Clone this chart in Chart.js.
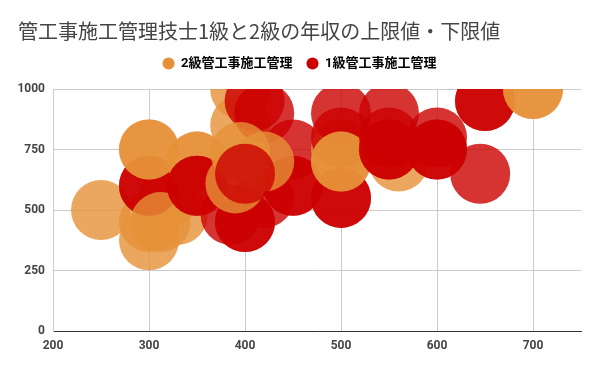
<!DOCTYPE html>
<html>
<head>
<meta charset="utf-8">
<script src="https://cdn.jsdelivr.net/npm/chart.js@4"></script>
<style>
  html, body { margin: 0; padding: 0; background: #fff; }
  #wrap { width: 600px; height: 371px; }
</style>
</head>
<body>
<div id="wrap"><canvas id="bubbleChart" width="600" height="371"></canvas></div>
<script>
// series names
const seriesNames = ['2級管工事施工管理', '1級管工事施工管理'];

// points in drawing order (later ones lie on top)
// 0 = 2級, 1 = 1級
const salaryLow = [250, 300, 300, 320, 330, 300, 300, 300, 300, 312, 350, 350, 350, 350,
    395, 395, 410, 420, 385, 400, 400, 420, 450, 450, 450, 395, 390, 420, 400, 500,
    500, 500, 500, 500, 500, 500, 560, 550, 550, 550, 550, 600, 600, 600, 645, 650, 650, 700, 700];
const salaryHigh = [500, 375, 450, 550, 480, 600, 600, 750, 750, 450, 700, 700, 600, 600,
    1000, 850, 950, 900, 480, 450, 450, 550, 750, 600, 600, 740, 610, 700, 650, 750,
    900, 800, 550, 550, 700, 700, 700, 900, 800, 750, 750, 800, 750, 750, 650, 950, 950, 1000, 1000];
const grade = [0, 0, 0, 0, 0, 1, 1, 0, 0, 0, 0, 0, 1, 1,
    0, 0, 1, 1, 1, 1, 1, 1, 1, 1, 1, 0, 0, 0, 1, 0,
    1, 1, 1, 1, 0, 0, 0, 1, 1, 1, 1, 1, 1, 1, 1, 1, 1, 0, 0];

// axis ticks
const xTicks = [200, 300, 400, 500, 600, 700];
const yTicks = [0, 250, 500, 750, 1000];

const fillColors = ['rgba(230, 145, 56, 0.8)', 'rgba(204, 0, 0, 0.8)'];
const legendColors = ['#e69138', '#cc0000'];

function buildPoints() {
    const pts = [];
    for (let i = 0; i < salaryLow.length; i++) {
        pts.push({ x: salaryLow[i], y: salaryHigh[i] });
    }
    return pts;
}

const tickFont = { family: "Roboto, 'Noto Sans CJK JP'", size: 12, weight: 'bold' };
const legendFont = { family: "Roboto, 'Noto Sans CJK JP'", size: 13, weight: 'bold' };

// leave a little more room under the legend
const legendGap = {
    id: 'legendGap',
    afterInit(chart) {
        const fit = chart.legend.fit;
        chart.legend.fit = function() {
            fit.call(this);
            this.height += 9;
        };
    }
};

const ctx = document.getElementById('bubbleChart').getContext('2d');
new Chart(ctx, {
    type: 'bubble',
    data: {
        datasets: [{
            label: 'salary',
            data: buildPoints(),
            radius: 30,
            borderWidth: 0,
            backgroundColor: c => fillColors[grade[c.dataIndex]]
        }]
    },
    options: {
        responsive: false,
        animation: false,
        events: [],
        layout: { autoPadding: false, padding: { left: 18, right: 19, top: 0, bottom: 0 } },
        plugins: {
            title: {
                display: true,
                text: '管工事施工管理技士1級と2級の年収の上限値・下限値',
                align: 'start',
                color: '#444',
                font: { family: "'Noto Sans CJK JP'", size: 20, weight: 'normal' },
                padding: { top: 19, bottom: 0 }
            },
            legend: {
                display: true,
                position: 'top',
                labels: {
                    usePointStyle: true,
                    boxWidth: 12,
                    boxHeight: 8.5,
                    padding: 14,
                    color: '#444',
                    font: legendFont,
                    generateLabels: () => seriesNames.map((name, i) => ({
                        text: name,
                        fillStyle: legendColors[i],
                        strokeStyle: legendColors[i],
                        lineWidth: 0,
                        pointStyle: 'circle',
                        hidden: false,
                        datasetIndex: 0
                    }))
                }
            },
            tooltip: { enabled: false }
        },
        scales: {
            x: {
                type: 'linear',
                min: 200,
                max: 750,
                afterFit: s => { s.height = 40; s.paddingLeft = 0; s.paddingRight = 0; },
                afterBuildTicks: s => { s.ticks = xTicks.map(v => ({ value: v })); },
                ticks: { color: '#444', font: tickFont, padding: 8 },
                grid: { color: '#ccc', drawTicks: false },
                border: { color: '#333', width: 1 }
            },
            y: {
                type: 'linear',
                min: 0,
                max: 1000,
                afterFit: s => { s.width = 35; s.paddingTop = 0; s.paddingBottom = 0; },
                afterBuildTicks: s => { s.ticks = yTicks.map(v => ({ value: v })); },
                ticks: { color: '#444', font: tickFont, padding: 8, callback: v => String(v) },
                grid: { color: '#ccc', drawTicks: false },
                border: { color: '#ccc', width: 1 }
            }
        }
    },
    plugins: [legendGap]
});
</script>
</body>
</html>
